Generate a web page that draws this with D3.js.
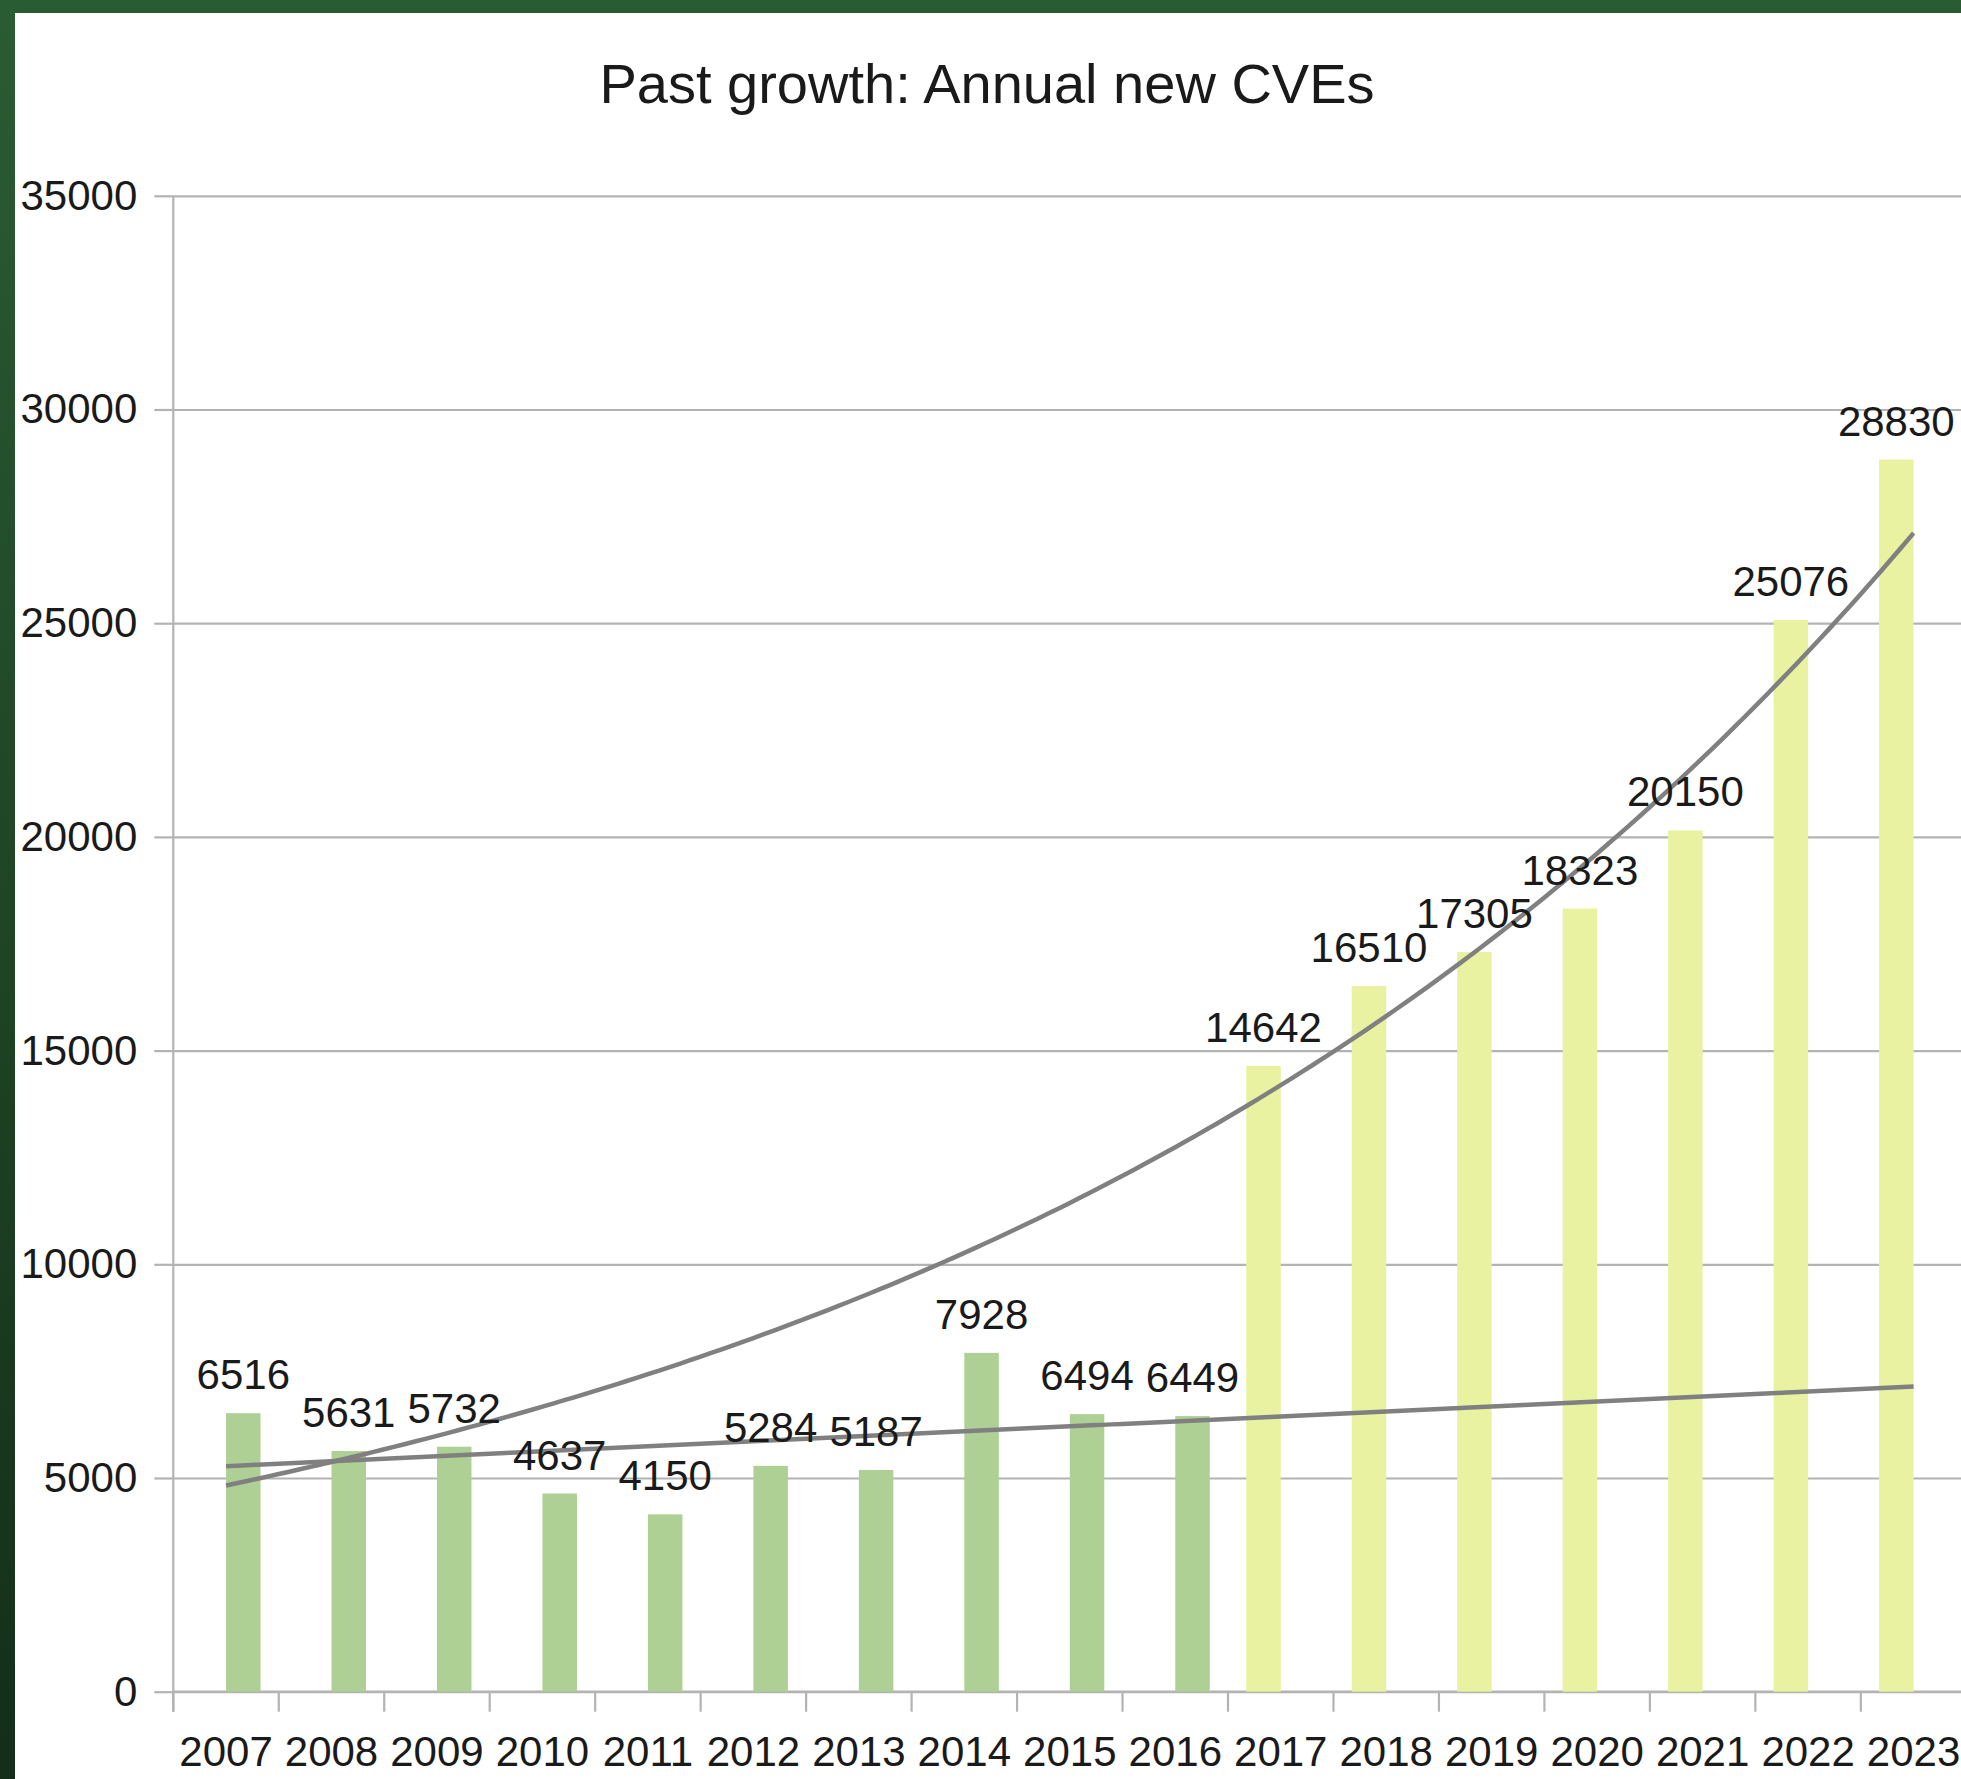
<!DOCTYPE html>
<html>
<head>
<meta charset="utf-8">
<script src="https://cdn.jsdelivr.net/npm/d3@7"></script>
<style>
  body { margin: 0; background: #fff; }
  svg { display: block; }
  text { font-family: "Liberation Sans", Arial, sans-serif; fill: #1a1a1a; }
</style>
</head>
<body>
<div id="chart"></div>
<script>
// data
const years = ["2007", "2008", "2009", "2010", "2011", "2012", "2013", "2014", "2015", "2016",
               "2017", "2018", "2019", "2020", "2021", "2022", "2023"];
// 2007-2016 (green series)
const oldYears = ["2007", "2008", "2009", "2010", "2011", "2012", "2013", "2014", "2015", "2016"];
const oldCves = [6516, 5631, 5732, 4637, 4150, 5284, 5187, 7928, 6494, 6449];
// 2017-2023 (yellow series)
const newYears = ["2017", "2018", "2019", "2020", "2021", "2022", "2023"];
const newCves = [14642, 16510, 17305, 18323, 20150, 25076, 28830];
const yTicks = [0, 5000, 10000, 15000, 20000, 25000, 30000, 35000];

const svgWidth = 1961;
const svgHeight = 1779;

const plot = { left: 173.3, right: 1966.3, top: 195.8, bottom: 1691.7 };

const svg = d3.select("#chart")
    .append("svg")
    .attr("width", svgWidth)
    .attr("height", svgHeight);

// slide background behind the chart
const grad = svg.append("defs").append("linearGradient")
    .attr("id", "bg")
    .attr("x1", 0).attr("y1", 0).attr("x2", 0).attr("y2", 1);
grad.append("stop").attr("offset", "0%").attr("stop-color", "#2a5c33");
grad.append("stop").attr("offset", "100%").attr("stop-color", "#142e19");

svg.append("rect")
    .attr("width", svgWidth)
    .attr("height", svgHeight)
    .attr("fill", "url(#bg)");

svg.append("rect")
    .attr("x", 15)
    .attr("y", 13)
    .attr("width", svgWidth - 15)
    .attr("height", svgHeight - 13)
    .attr("fill", "#ffffff");

const x = d3.scaleBand()
    .domain(years)
    .range([plot.left, plot.right])
    .padding(0);

const xSeries = d3.scaleBand()
    .domain(["new", "old"])
    .range([0, 69]);

const y = d3.scaleLinear()
    .domain([0, 35000])
    .range([plot.bottom, plot.top]);

// gridlines
svg.append("g")
    .attr("transform", `translate(${plot.left},0)`)
    .call(d3.axisLeft(y).tickValues(yTicks).tickSize(-(svgWidth - plot.left)).tickFormat(""))
    .call(g => g.select(".domain").remove())
    .selectAll("line")
    .attr("stroke", "#b3b3b3")
    .attr("stroke-width", 2.2);

// y axis
const yAxis = svg.append("g")
    .attr("transform", `translate(${plot.left},0)`)
    .call(d3.axisLeft(y).tickValues(yTicks).tickSize(19).tickPadding(17).tickFormat(d3.format("d")));
yAxis.select(".domain").remove();
yAxis.selectAll("line").attr("stroke", "#b3b3b3").attr("stroke-width", 2.2);
yAxis.selectAll("text").attr("font-size", 42).attr("fill", "#1a1a1a");

svg.append("line")
    .attr("x1", plot.left).attr("x2", plot.left)
    .attr("y1", plot.top).attr("y2", plot.bottom + 20)
    .attr("stroke", "#b3b3b3")
    .attr("stroke-width", 2.2);

// x axis
const xAxis = svg.append("g")
    .attr("transform", `translate(0,${plot.bottom})`)
    .call(d3.axisBottom(x).tickSize(0).tickPadding(74));
xAxis.select(".domain").remove();
xAxis.selectAll("text").attr("font-size", 42).attr("fill", "#1a1a1a").attr("dy", "0");

svg.append("line")
    .attr("x1", plot.left).attr("x2", svgWidth)
    .attr("y1", plot.bottom).attr("y2", plot.bottom)
    .attr("stroke", "#b3b3b3")
    .attr("stroke-width", 2.2);

svg.append("g").selectAll("line")
    .data(years)
    .enter()
    .append("line")
    .attr("x1", d => x(d)).attr("x2", d => x(d))
    .attr("y1", plot.bottom).attr("y2", plot.bottom + 20)
    .attr("stroke", "#b3b3b3")
    .attr("stroke-width", 2.2);

// bars
const oldData = oldYears.map((yr, i) => ({ year: yr, value: oldCves[i], s: "old" }));
const newData = newYears.map((yr, i) => ({ year: yr, value: newCves[i], s: "new" }));
const allData = oldData.concat(newData);

const barX = d => x(d.year) + x.bandwidth() / 2 - 34.5 + xSeries(d.s);

svg.append("g").selectAll("rect")
    .data(allData)
    .enter()
    .append("rect")
    .attr("x", barX)
    .attr("y", d => y(d.value))
    .attr("width", xSeries.bandwidth())
    .attr("height", d => y(0) - y(d.value))
    .attr("fill", d => d.s === "old" ? "#afd095" : "#e8f2a1");

// trend lines: linear fit of the green series, exponential fit of the yellow series
const idx = yr => years.indexOf(yr) + 1;
function fit(xs, ys) {
    const mx = d3.mean(xs), my = d3.mean(ys);
    const b = d3.sum(xs, (v, i) => (v - mx) * (ys[i] - my)) / d3.sum(xs, v => (v - mx) * (v - mx));
    return { a: my - b * mx, b: b };
}
const lin = fit(oldYears.map(idx), oldCves);
const ex = fit(newYears.map(idx), newCves.map(Math.log));

const cx = t => plot.left + (t - 0.5) * x.step();
const steps = d3.range(1, 17.001, 0.1);

svg.append("path")
    .datum(steps)
    .attr("fill", "none")
    .attr("stroke", "#808080")
    .attr("stroke-width", 4.5)
    .attr("d", d3.line().x(t => cx(t)).y(t => y(lin.a + lin.b * t)));

svg.append("path")
    .datum(steps)
    .attr("fill", "none")
    .attr("stroke", "#808080")
    .attr("stroke-width", 4.5)
    .attr("d", d3.line().curve(d3.curveMonotoneX).x(t => cx(t)).y(t => y(Math.exp(ex.a + ex.b * t))));

// data labels
svg.append("g").selectAll("text")
    .data(allData)
    .enter()
    .append("text")
    .attr("x", d => barX(d) + xSeries.bandwidth() / 2)
    .attr("y", d => y(d.value) - 24)
    .attr("text-anchor", "middle")
    .attr("font-size", 42)
    .text(d => d.value);

// title
svg.append("text")
    .attr("x", 987)
    .attr("y", 103)
    .attr("text-anchor", "middle")
    .attr("font-size", 56)
    .text("Past growth: Annual new CVEs");
</script>
</body>
</html>
